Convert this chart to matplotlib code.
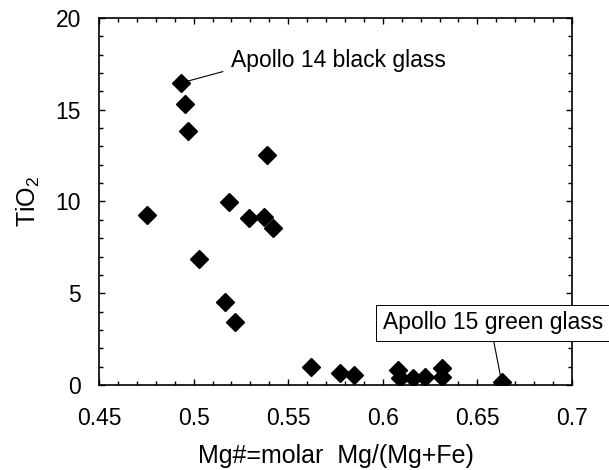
import matplotlib
matplotlib.use("Agg")
import matplotlib.pyplot as plt
from matplotlib.ticker import MultipleLocator

plt.rcParams["font.family"] = ["Liberation Sans", "DejaVu Sans"]
plt.rcParams["mathtext.fontset"] = "custom"
plt.rcParams["mathtext.rm"] = "Liberation Sans"

# Mg# vs TiO2 for lunar volcanic glasses
mg_number = [0.4752, 0.4933, 0.4954, 0.4971, 0.5026, 0.5167, 0.5188, 0.5218,
             0.5292, 0.5373, 0.5389, 0.5420, 0.5618, 0.5772, 0.5848, 0.6080,
             0.6089, 0.6160, 0.6221, 0.6315, 0.6315, 0.6628]
tio2 = [9.26, 16.46, 15.31, 13.84, 6.85, 4.54, 9.99, 3.45,
        9.12, 9.17, 12.53, 8.57, 0.96, 0.64, 0.54, 0.82,
        0.37, 0.37, 0.42, 0.91, 0.42, 0.18]

black_glass = (0.4933, 16.46)
green_glass = (0.6628, 0.18)

fig = plt.figure(figsize=(6.09, 4.70), dpi=100)
ax = fig.add_axes([0.1626, 0.1809, 0.7766, 0.7808])

ax.plot(mg_number, tio2, linestyle="none", marker="D", markersize=9,
        color="black", zorder=3)

ax.set_xlim(0.45, 0.7)
ax.set_ylim(0, 20)
ax.xaxis.set_minor_locator(MultipleLocator(0.01))
ax.yaxis.set_major_locator(MultipleLocator(5))
ax.yaxis.set_minor_locator(MultipleLocator(1))
ax.set_xticks([0.45, 0.5, 0.55, 0.6, 0.65, 0.7])
ax.set_xticklabels(["0.45", "0.5", "0.55", "0.6", "0.65", "0.7"])

ax.tick_params(which="both", direction="in", top=True, right=True,
               width=1.0, labelsize=16.5)
ax.tick_params(which="major", length=4)
ax.tick_params(which="minor", length=3)
ax.tick_params(axis="x", which="major", pad=16)
ax.tick_params(axis="y", which="major", pad=13)
for sp in ax.spines.values():
    sp.set_linewidth(1.2)

ax.set_xlabel("Mg#=molar  Mg/(Mg+Fe)", fontsize=18, labelpad=10)
ax.set_ylabel(r"TiO$_\mathregular{2}$", fontsize=18, labelpad=10)

# labels with leader lines
ax.text(0.52, 17.31, "Apollo 14 black glass", fontsize=16.5,
        ha="left", va="baseline")
ax.annotate("", xy=black_glass, xytext=(0.5155, 17.08),
            arrowprops=dict(arrowstyle="-", lw=0.8, color="black",
                            shrinkA=0, shrinkB=0))

ax.text(0.6581, 3.38, "Apollo 15 green glass", fontsize=16.5,
        ha="center", va="center", zorder=5, clip_on=False,
        bbox=dict(boxstyle="square,pad=0.3", fc="white", ec="black", lw=0.7))
ax.annotate("", xy=green_glass, xytext=(0.6581, 2.67),
            arrowprops=dict(arrowstyle="-", lw=0.8, color="black",
                            shrinkA=0, shrinkB=0))

fig.savefig("out.png", dpi=100)
